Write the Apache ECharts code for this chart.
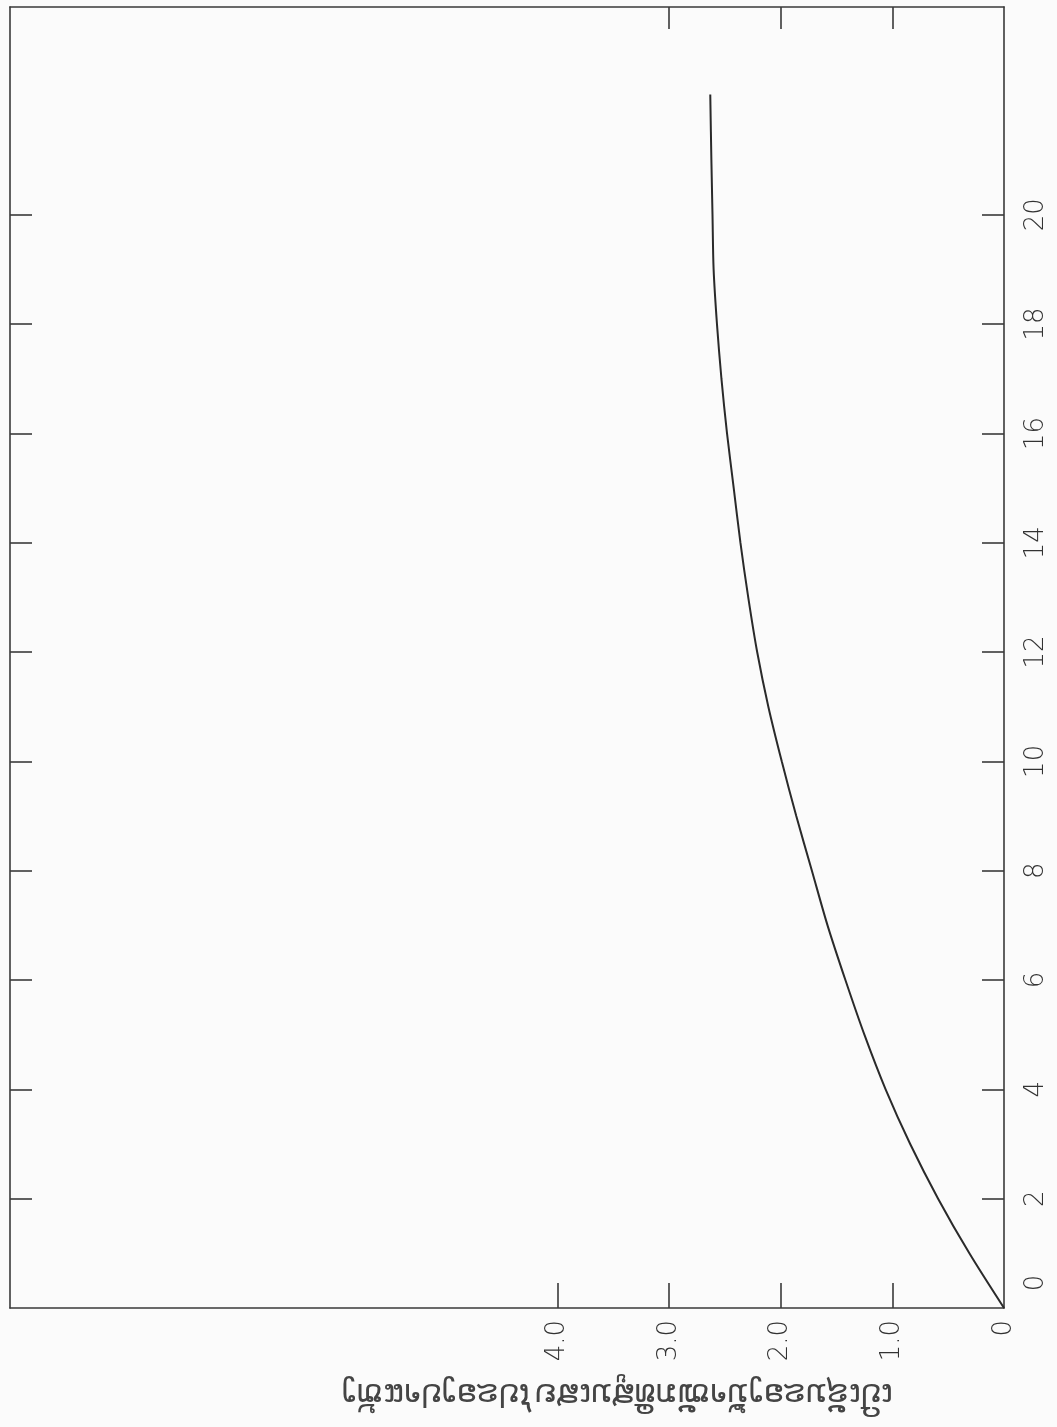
<!DOCTYPE html>
<html>
<head>
<meta charset="utf-8">
<script src="https://cdn.jsdelivr.net/npm/echarts@6/dist/echarts.min.js"></script>
<style>
html,body{margin:0;padding:0;background:#fbfbfb;}
#c{width:1057px;height:1427px;}
</style>
</head>
<body>
<div id="c"></div>
<script>
// independent variable (drawn on the vertical axis, labels at right)
const xValues = [0, 1, 2, 3, 4, 5, 6, 7, 8, 9, 10, 11, 12, 13, 14, 15, 16, 17, 18, 19, 20, 21, 22.2];
// dependent variable (drawn on the horizontal axis, increasing leftwards)
const yValues = [0, 0.31, 0.59, 0.84, 1.06, 1.25, 1.42, 1.58, 1.72, 1.86, 1.99, 2.11, 2.21, 2.29, 2.36, 2.42, 2.48, 2.53, 2.57, 2.60, 2.61, 2.62, 2.63];
const xTickLabels = [0, 2, 4, 6, 8, 10, 12, 14, 16, 18, 20];
const yTickLabels = [0, 1, 2, 3, 4];
const axisTitle = 'ເປີເຊັນຂອງນ້ຳໜັກທີ່ສູນເສຍໄປຂອງປາແຫ້ງ';

const ink = '#3a3a3a';
const chart = echarts.init(document.getElementById('c'), null, {renderer: 'canvas'});
const lineStyle = {color: ink, width: 1.6};
chart.setOption({
  backgroundColor: '#fbfbfb',
  animation: false,
  grid: {left: 10, right: 53, top: 7, bottom: 119},
  xAxis: [{
    type: 'value', position: 'bottom', inverse: true, min: 0, max: 8.9,
    axisLine: {show: true, onZero: false, lineStyle: lineStyle},
    axisTick: {show: true, inside: true, length: 25, customValues: [1, 2, 3, 4], lineStyle: lineStyle},
    axisLabel: {
      customValues: yTickLabels, rotate: 90, margin: 12, fontSize: 26,
      fontFamily: 'DejaVu Sans', fontWeight: 200, color: '#333',
      formatter: v => v === 0 ? '{z|0}' : v.toFixed(1),
      rich: {z: {fontSize: 26, fontFamily: 'DejaVu Sans', fontWeight: 200, color: '#333', padding: [0, 0, 0, 25]}}
    },
    splitLine: {show: false}
  }, {
    type: 'value', position: 'top', inverse: true, min: 0, max: 8.9,
    axisLine: {show: true, onZero: false, lineStyle: lineStyle},
    axisTick: {show: true, inside: true, length: 22, customValues: [1, 2, 3], lineStyle: lineStyle},
    axisLabel: {show: false},
    splitLine: {show: false}
  }],
  yAxis: [{
    type: 'value', position: 'right', min: 0, max: 23.8,
    axisLine: {show: true, onZero: false, lineStyle: lineStyle},
    axisTick: {show: true, inside: true, length: 22, customValues: xTickLabels.slice(1), lineStyle: lineStyle},
    axisLabel: {
      customValues: xTickLabels, rotate: 90, margin: 19, fontSize: 26,
      fontFamily: 'DejaVu Sans', fontWeight: 200, color: '#333',
      formatter: v => v === 0 ? '{z|0}' : String(v),
      rich: {z: {fontSize: 26, fontFamily: 'DejaVu Sans', fontWeight: 200, color: '#333', padding: [0, 0, 0, 50]}}
    },
    splitLine: {show: false}
  }, {
    type: 'value', position: 'left', min: 0, max: 23.8,
    axisLine: {show: true, onZero: false, lineStyle: lineStyle},
    axisTick: {show: true, inside: true, length: 22, customValues: xTickLabels.slice(1), lineStyle: lineStyle},
    axisLabel: {show: false},
    splitLine: {show: false}
  }],
  series: [{
    type: 'line', xAxisIndex: 0, yAxisIndex: 0,
    data: yValues.map((v, i) => [v, xValues[i]]),
    smooth: 0.3, showSymbol: false,
    lineStyle: {color: '#2a2a2a', width: 2}
  }],
  graphic: [{
    type: 'text', x: 617, y: 1392, rotation: Math.PI,
    style: {text: axisTitle, font: '32px "DejaVu Sans"', fill: '#444', align: 'center', verticalAlign: 'middle'}
  }]
});
</script>
</body>
</html>
